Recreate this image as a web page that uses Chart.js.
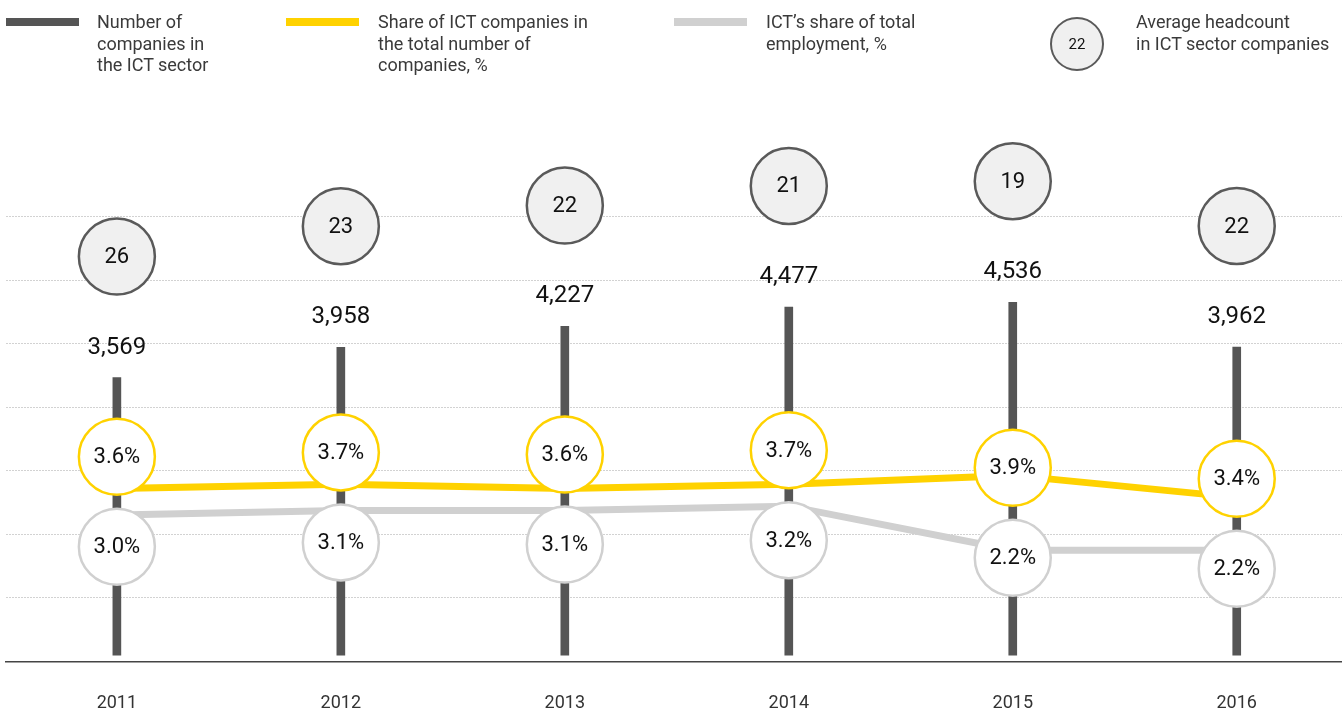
<!DOCTYPE html>
<html>
<head>
<meta charset="utf-8">
<script src="https://cdn.jsdelivr.net/npm/chart.js@4.4.0/dist/chart.umd.min.js"></script>
<style>
html, body { margin: 0; padding: 0; background: #fff; overflow: hidden; }
.wrap { position: relative; width: 1342px; height: 709px; font-family: Roboto, sans-serif; color: #3a3a3a; }
canvas { position: absolute; left: 0; top: 0; }
.sw { position: absolute; top: 18px; width: 73px; height: 8px; }
.lg { position: absolute; top: 11px; font-size: 18px; line-height: 21.5px; white-space: nowrap; }
.dot { position: absolute; left: 1050px; top: 17px; width: 50px; height: 50px; border: 2px solid #5a5a5a; border-radius: 50%;
       background: #f0f0f0; color: #111; font-size: 15px; line-height: 50px; text-align: center; }
</style>
</head>
<body>
<div class="wrap">
  <canvas id="myChart" width="1342" height="709"></canvas>
  <div class="sw" style="left:6px;background:#555555"></div>
  <div class="lg" style="left:97px">Number of<br>companies in<br>the ICT sector</div>
  <div class="sw" style="left:286px;background:#ffd200"></div>
  <div class="lg" style="left:378px">Share of ICT companies in<br>the total number of<br>companies, %</div>
  <div class="sw" style="left:674px;background:#d0d0d0"></div>
  <div class="lg" style="left:766px">ICT’s share of total<br>employment, %</div>
  <div class="dot">22</div>
  <div class="lg" style="left:1136px">Average headcount<br>in ICT sector companies</div>
</div>
<script>
// values
const years = ['2011', '2012', '2013', '2014', '2015', '2016'];
const companies = [3569, 3958, 4227, 4477, 4536, 3962];
const shareCompanies = [3.6, 3.7, 3.6, 3.7, 3.9, 3.4];
const shareEmployment = [3.0, 3.1, 3.1, 3.2, 2.2, 2.2];
const headcount = [26, 23, 22, 21, 19, 22];

const ctx = document.getElementById('myChart');
const toXY = arr => arr.map((v, i) => ({ x: i, y: v }));

function circle(c, x, y, r, fill, stroke, lw, text, font) {
    c.beginPath();
    c.arc(x, y, r, 0, Math.PI * 2);
    c.fillStyle = fill;
    c.fill();
    c.lineWidth = lw;
    c.strokeStyle = stroke;
    c.stroke();
    c.fillStyle = '#111';
    c.font = font;
    c.textAlign = 'center';
    c.textBaseline = 'middle';
    c.fillText(text, x, y + 1);
}

// circles with labels: pct circles pushed apart around the two lines, headcount above the bars
const labelsPlugin = {
    id: 'labels',
    afterDatasetsDraw(chart) {
        const c = chart.ctx;
        const yellow = chart.getDatasetMeta(0).data;
        const grey = chart.getDatasetMeta(1).data;
        const bars = chart.getDatasetMeta(2).data;
        c.save();
        yellow.forEach((p, i) => {
            const yA = p.y, yB = grey[i].y;
            const mid = (yA + yB) / 2;
            const gap = Math.max(yB - yA, 90);
            circle(c, p.x, mid - gap / 2, 38, '#fff', '#ffd200', 2.5, shareCompanies[i].toFixed(1) + '%', '22px Roboto');
            circle(c, p.x, mid + gap / 2, 38, '#fff', '#d0d0d0', 2.5, shareEmployment[i].toFixed(1) + '%', '22px Roboto');
        });
        bars.forEach((b, i) => {
            c.fillStyle = '#111';
            c.font = '24px Roboto';
            c.textAlign = 'center';
            c.textBaseline = 'middle';
            c.fillText(companies[i].toLocaleString('en-US'), b.x, b.y - 30);
            circle(c, b.x, b.y - 121, 38, '#f0f0f0', '#5a5a5a', 2.5, String(headcount[i]), '22px Roboto');
        });
        c.restore();
    }
};

const chart = new Chart(ctx, {
    type: 'bar',
    data: {
        datasets: [{
            type: 'line',
            label: 'Share of ICT companies in the total number of companies, %',
            data: toXY(shareCompanies),
            yAxisID: 'yPct',
            borderColor: '#ffd200',
            borderWidth: 7,
            pointRadius: 0,
            tension: 0,
            order: 1
        }, {
            type: 'line',
            label: 'ICT’s share of total employment, %',
            data: toXY(shareEmployment),
            yAxisID: 'yPct',
            borderColor: '#d0d0d0',
            borderWidth: 7,
            pointRadius: 0,
            tension: 0,
            order: 2
        }, {
            type: 'bar',
            label: 'Number of companies in the ICT sector',
            data: toXY(companies),
            yAxisID: 'yBar',
            backgroundColor: '#555555',
            barThickness: 8,
            order: 3
        }]
    },
    options: {
        responsive: false,
        animation: false,
        devicePixelRatio: 1,
        layout: { padding: { top: 153.5, left: 6, right: 0, bottom: -37 } },
        plugins: { legend: { display: false }, tooltip: { enabled: false } },
        scales: {
            x: {
                type: 'linear',
                offset: false,
                min: -0.495,
                max: 5.47,
                afterBuildTicks: scale => { scale.ticks = years.map((y, i) => ({ value: i })); },
                ticks: {
                    callback: v => years[v],
                    padding: 31.5,
                    color: '#333',
                    font: { family: 'Roboto', size: 18 }
                },
                grid: { display: false, drawTicks: false },
                border: { display: true, color: '#444', width: 1.5 }
            },
            yGrid: {
                position: 'left',
                min: 0,
                max: 8,
                ticks: { display: false, stepSize: 1 },
                grid: {
                    drawTicks: false,
                    lineWidth: 1,
                    color: c => (c.tick.value === 0 || c.tick.value === 8) ? 'rgba(0,0,0,0)' : '#d2d2d2'
                },
                border: { display: false, dash: [2, 1] }
            },
            yBar: { display: false, min: -80, max: 6450 },
            yPct: { display: false, min: -0.33, max: 11.22 }
        }
    },
    plugins: [labelsPlugin]
});
</script>
</body>
</html>
